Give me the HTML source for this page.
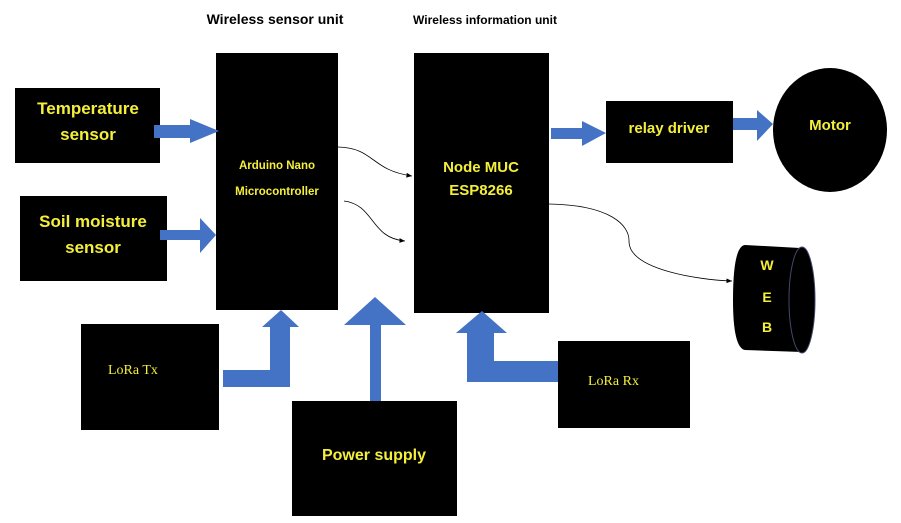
<!DOCTYPE html>
<html><head><meta charset="utf-8"><style>
body{margin:0;background:#fff;}
svg{display:block}
.t{font-family:"Liberation Sans",sans-serif;font-weight:bold;fill:#f4ef3a}
.s{font-family:"Liberation Serif",serif;fill:#f4ef3a}
</style></head><body>
<svg width="901" height="523" viewBox="0 0 901 523" xmlns="http://www.w3.org/2000/svg">
<defs><marker id="a" markerWidth="8" markerHeight="8" refX="7" refY="3" orient="auto"><path d="M0,0 L7,3 L0,6 z" fill="#000"/></marker></defs>
<text x="275" y="24" text-anchor="middle" font-family="Liberation Sans,sans-serif" font-weight="bold" font-size="14" fill="#000">Wireless sensor unit</text>
<text x="485" y="24" text-anchor="middle" font-family="Liberation Sans,sans-serif" font-weight="bold" font-size="12" fill="#000">Wireless information unit</text>
<!-- boxes -->
<rect x="15" y="88" width="145" height="75" fill="#000"/>
<text class="t" x="88" y="114" text-anchor="middle" font-size="17">Temperature</text>
<text class="t" x="88" y="140" text-anchor="middle" font-size="17">sensor</text>
<rect x="20" y="196" width="147" height="85" fill="#000"/>
<text class="t" x="93" y="227" text-anchor="middle" font-size="17">Soil moisture</text>
<text class="t" x="93" y="253" text-anchor="middle" font-size="17">sensor</text>
<rect x="216" y="53" width="122" height="257" fill="#000"/>
<text class="t" x="277" y="169" text-anchor="middle" font-size="11.5">Arduino Nano</text>
<text class="t" x="277" y="195" text-anchor="middle" font-size="11.5">Microcontroller</text>
<rect x="414" y="53" width="135" height="260" fill="#000"/>
<text class="t" x="481" y="172" text-anchor="middle" font-size="15">Node MUC</text>
<text class="t" x="481" y="195" text-anchor="middle" font-size="15">ESP8266</text>
<rect x="606" y="101" width="127" height="62" fill="#000"/>
<text class="t" x="669" y="133" text-anchor="middle" font-size="15">relay driver</text>
<ellipse cx="830" cy="130" rx="57" ry="62" fill="#000"/>
<text class="t" x="830" y="130" text-anchor="middle" font-size="15">Motor</text>
<rect x="81" y="324" width="138" height="106" fill="#000"/>
<text class="s" x="108" y="374" font-size="14">LoRa Tx</text>
<rect x="292" y="401" width="165" height="115" fill="#000"/>
<text class="t" x="374" y="460" text-anchor="middle" font-size="16">Power supply</text>
<rect x="558" y="341" width="132" height="87" fill="#000"/>
<text class="s" x="588" y="385" font-size="14">LoRa  Rx</text>
<!-- WEB cylinder -->
<path d="M745,245 L800,248 L802,352 L745,350 Q733,348 733,300 Q733,246 745,245 z" fill="#000"/>
<ellipse cx="802" cy="300" rx="13" ry="53" fill="#000" stroke="#44486a" stroke-width="1"/>
<text class="t" x="767" y="270" text-anchor="middle" font-size="14">W</text>
<text class="t" x="767" y="302" text-anchor="middle" font-size="14">E</text>
<text class="t" x="767" y="332" text-anchor="middle" font-size="14">B</text>
<!-- blue arrows -->
<g fill="#4472c4">
<path d="M154,125 L190,125 L190,119 L219,131 L190,143 L190,138 L154,138 z"/>
<path d="M160,230 L200,230 L200,218 L216,235 L200,253 L200,240 L160,240 z"/>
<path d="M223,370 L270,370 L270,327 L262,327 L281,310 L299,327 L290,327 L290,387 L223,387 z"/>
<path d="M370,401 L370,325 L344,325 L375,297 L406,325 L381,325 L381,401 z"/>
<path d="M558,361 L494,361 L494,333 L507,333 L482,311 L456,333 L467,333 L467,382 L558,382 z"/>
<path d="M551,128 L582,128 L582,121 L606,133 L582,146 L582,139 L551,139 z"/>
<path d="M733,118 L757,118 L757,110 L773,124 L757,141 L757,130 L733,130 z"/>
</g>
<!-- curves -->
<g fill="none" stroke="#000" stroke-width="0.8">
<path d="M338,147 C375,148 370,170 412,176" marker-end="url(#a)"/>
<path d="M344,201 C375,205 370,238 405,241" marker-end="url(#a)"/>
<path d="M549,204 C610,205 630,225 629,242 C630,270 700,280 732,281" marker-end="url(#a)"/>
</g>
</svg>
</body></html>
